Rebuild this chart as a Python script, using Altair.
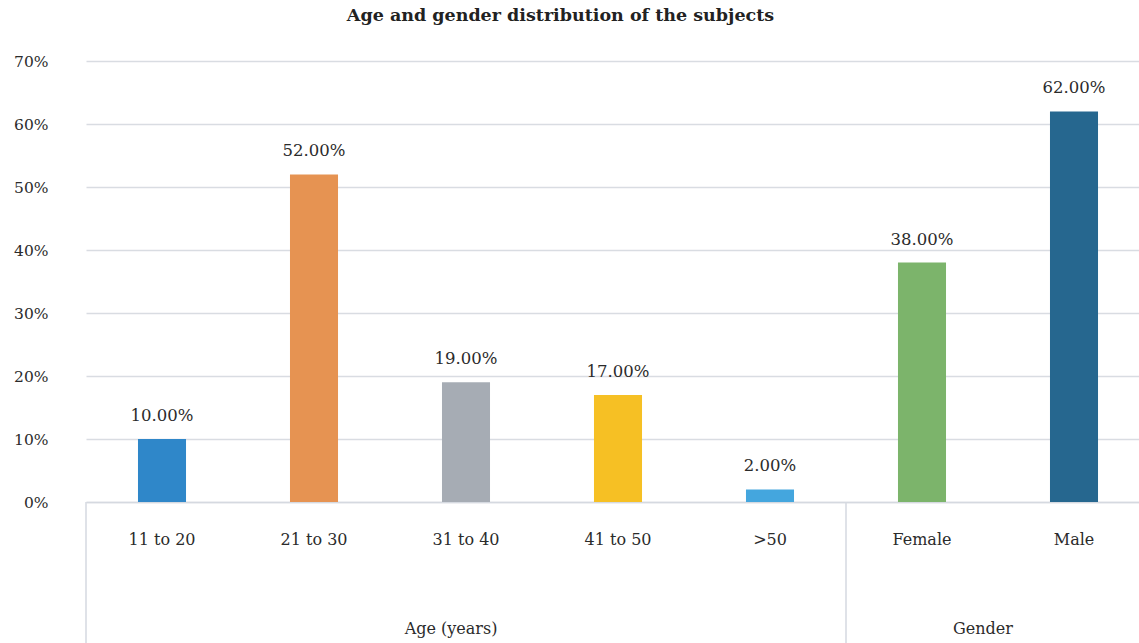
import altair as alt
import pandas as pd

categories = ["11 to 20", "21 to 30", "31 to 40", "41 to 50", ">50", "Female", "Male"]
values = [0.10, 0.52, 0.19, 0.17, 0.02, 0.38, 0.62]
labels = ["10.00%", "52.00%", "19.00%", "17.00%", "2.00%", "38.00%", "62.00%"]
colors = ["#2F87C9", "#E69352", "#A6ACB4", "#F6C024", "#44A6DE", "#7CB46B", "#26678F"]
groups = ["Age (years)", "Gender"]
group_start = [0, 5]   # index of the first category of each group
group_end = [5, 7]

FONT = "DejaVu Serif"
TXT = "#2b2b2b"
H = 441
W = 1053
RANGE = [0, 1064]
PI = 0.684

df = pd.DataFrame({"cat": categories, "val": values, "lab": labels})

xscale = alt.Scale(domain=categories, range=RANGE, paddingInner=PI, paddingOuter=PI / 2)
xs = alt.X("cat:N", sort=categories, scale=xscale,
           axis=alt.Axis(title=None, labelAngle=0, ticks=False, domainColor="#d5d9e0", domainWidth=1.5,
                         labelPadding=29, labelFont=FONT, labelFontSize=16, labelColor=TXT, grid=False))
ys = alt.Y("val:Q", scale=alt.Scale(domain=[0, 0.7]),
           axis=alt.Axis(title=None, format=".0%", values=[0, .1, .2, .3, .4, .5, .6, .7], domain=False, ticks=False,
                         labelPadding=38, labelFont=FONT, labelFontSize=15.5, labelColor=TXT,
                         gridColor="#d9dce2", gridWidth=1.5))

bars = alt.Chart(df).mark_bar().encode(
    x=xs, y=ys,
    color=alt.Color("cat:N", scale=alt.Scale(domain=categories, range=colors), legend=None),
)
text = alt.Chart(df).mark_text(baseline="bottom", dy=-15, font=FONT, fontSize=16.5, color=TXT).encode(
    x=alt.X("cat:N", sort=categories), y="val:Q", text="lab:N")

gdf = pd.DataFrame({"g": groups, "start": group_start, "end": group_end})
gdf["mid"] = (gdf["start"] + gdf["end"]) / 2
gscale = alt.Scale(domain=[0, len(categories)], range=RANGE, nice=False, zero=False)

rules = alt.Chart(gdf).mark_rule(color="#d5d9e0", strokeWidth=1.5).encode(
    x=alt.X("start:Q", scale=gscale, axis=None), y=alt.value(H), y2=alt.value(H + 145))
gtext = alt.Chart(gdf).mark_text(font=FONT, fontSize=16, color=TXT, dx=-15).encode(
    x=alt.X("mid:Q", scale=gscale, axis=None), y=alt.value(H + 127), text="g:N")

groups_layer = alt.layer(rules, gtext)

chart = alt.layer(alt.layer(bars, text), groups_layer).resolve_scale(x="independent").properties(
    width=W, height=H, autosize="none",
    padding={"left": 86, "top": 61, "right": 0, "bottom": 141},
    title=alt.TitleParams("Age and gender distribution of the subjects", font=FONT, fontSize=17.5,
                          fontWeight="bold", color="#222222", offset=30, dx=-52),
).configure_view(stroke=None)

chart.save("out.html", embed_options={"renderer": "svg", "actions": False})
